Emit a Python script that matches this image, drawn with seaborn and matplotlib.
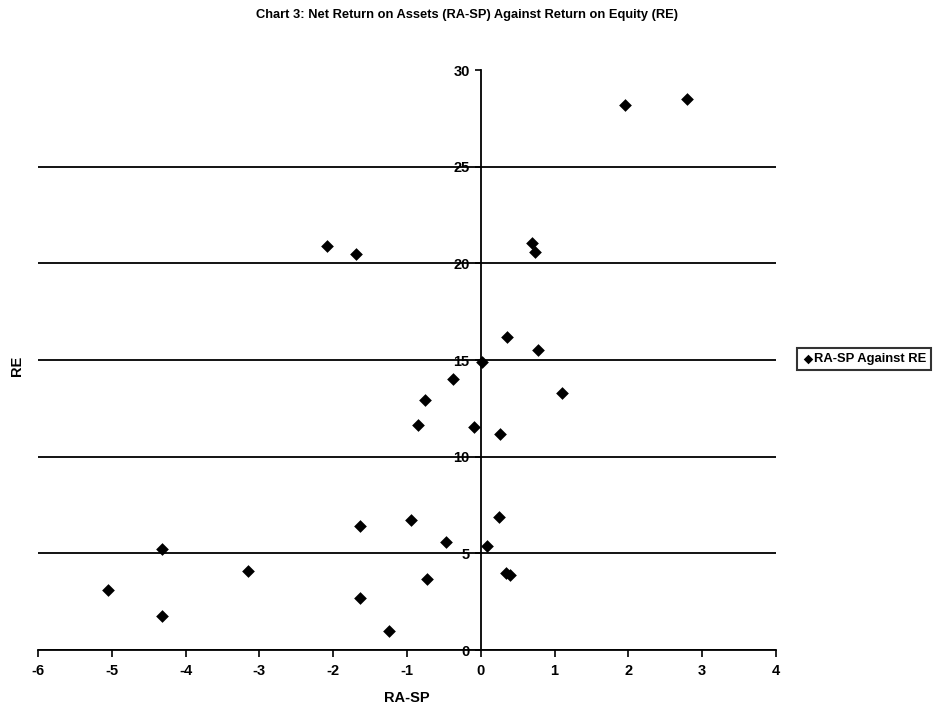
import matplotlib
matplotlib.use("Agg")
import matplotlib.pyplot as plt
import pandas as pd
import seaborn as sns

# values
ra_sp = [-5.05, -4.32, -4.32, -3.15, -2.09, -1.69, -1.64, -1.64, -1.25, -0.94,
         -0.85, -0.75, -0.73, -0.47, -0.375, -0.09, 0.01, 0.08, 0.25, 0.26,
         0.34, 0.40, 0.36, 0.69, 0.74, 0.78, 1.10, 1.95, 2.80]
re_vals = [3.1, 5.2, 1.75, 4.07, 20.9, 20.5, 6.4, 2.7, 1.0, 6.7,
           11.65, 12.95, 3.65, 5.6, 14.0, 11.55, 14.9, 5.4, 6.9, 11.17,
           4.0, 3.9, 16.2, 21.07, 20.6, 15.5, 13.3, 28.2, 28.5]
x_ticks = [-6, -5, -4, -3, -2, -1, 0, 1, 2, 3, 4]
y_ticks = [0, 5, 10, 15, 20, 25, 30]

df = pd.DataFrame({"RA-SP": ra_sp, "RE": re_vals})

sns.set_theme(style="white")
plt.rcParams["font.family"] = ["Liberation Sans", "DejaVu Sans"]
plt.rcParams["axes.unicode_minus"] = False

fig = plt.figure(figsize=(9.37, 7.14), dpi=100)
ax = fig.add_axes([38 / 937, 1 - 650 / 714, 738 / 937, 580 / 714])

sns.scatterplot(data=df, x="RA-SP", y="RE", ax=ax, marker="D", color="black",
                s=42, edgecolor="black", linewidth=0, label="RA-SP Against RE",
                zorder=3)

ax.set_xlim(-6, 4)
ax.set_ylim(0, 30)
ax.set_xticks(x_ticks)
ax.set_yticks(y_ticks)

# excel-style axes: y axis crosses at x=0
ax.spines["left"].set_position(("data", 0))
ax.spines["right"].set_visible(False)
ax.spines["top"].set_visible(False)
for sp in ("left", "bottom"):
    ax.spines[sp].set_color("black")
    ax.spines[sp].set_linewidth(1.3)

ax.yaxis.grid(True, color="black", linewidth=1.3)
ax.yaxis.get_gridlines()[-1].set_visible(False)
ax.set_axisbelow(True)

ax.tick_params(axis="y", direction="out", length=4, width=1.2, color="black",
               pad=4, labelsize=10.5, labelcolor="black")
ax.tick_params(axis="x", direction="out", length=5, width=1.2, color="black",
               pad=5, labelsize=10.5, labelcolor="black")
ax.tick_params(left=True, bottom=True)
for lab in ax.get_xticklabels() + ax.get_yticklabels():
    lab.set_fontweight("bold")

ax.set_xlabel("RA-SP", fontsize=10.5, fontweight="bold", color="black")
ax.set_ylabel("RE", fontsize=10.5, fontweight="bold", color="black")
ax.xaxis.set_label_coords(0.5, -0.07)
ax.yaxis.set_label_coords(-0.019, 0.49)

leg = ax.legend(loc="center left", bbox_to_anchor=(797 / 937, 1 - 359 / 714),
                bbox_transform=fig.transFigure, frameon=True, fancybox=False,
                handletextpad=0.0, handlelength=0.9, borderpad=0.4,
                borderaxespad=0.0,
                prop={"weight": "bold", "size": 9.4}, markerscale=0.75)
leg.get_frame().set_edgecolor("black")
leg.get_frame().set_linewidth(1.5)
for t in leg.get_texts():
    t.set_color("black")

fig.text(467 / 937, 1 - 15 / 714,
         "Chart 3: Net Return on Assets (RA-SP) Against Return on Equity (RE)",
         ha="center", va="center", fontsize=9.3, fontweight="bold",
         color="black",
         family=["Liberation Sans Narrow", "Liberation Sans", "DejaVu Sans"])

fig.savefig("out.png", dpi=100)
